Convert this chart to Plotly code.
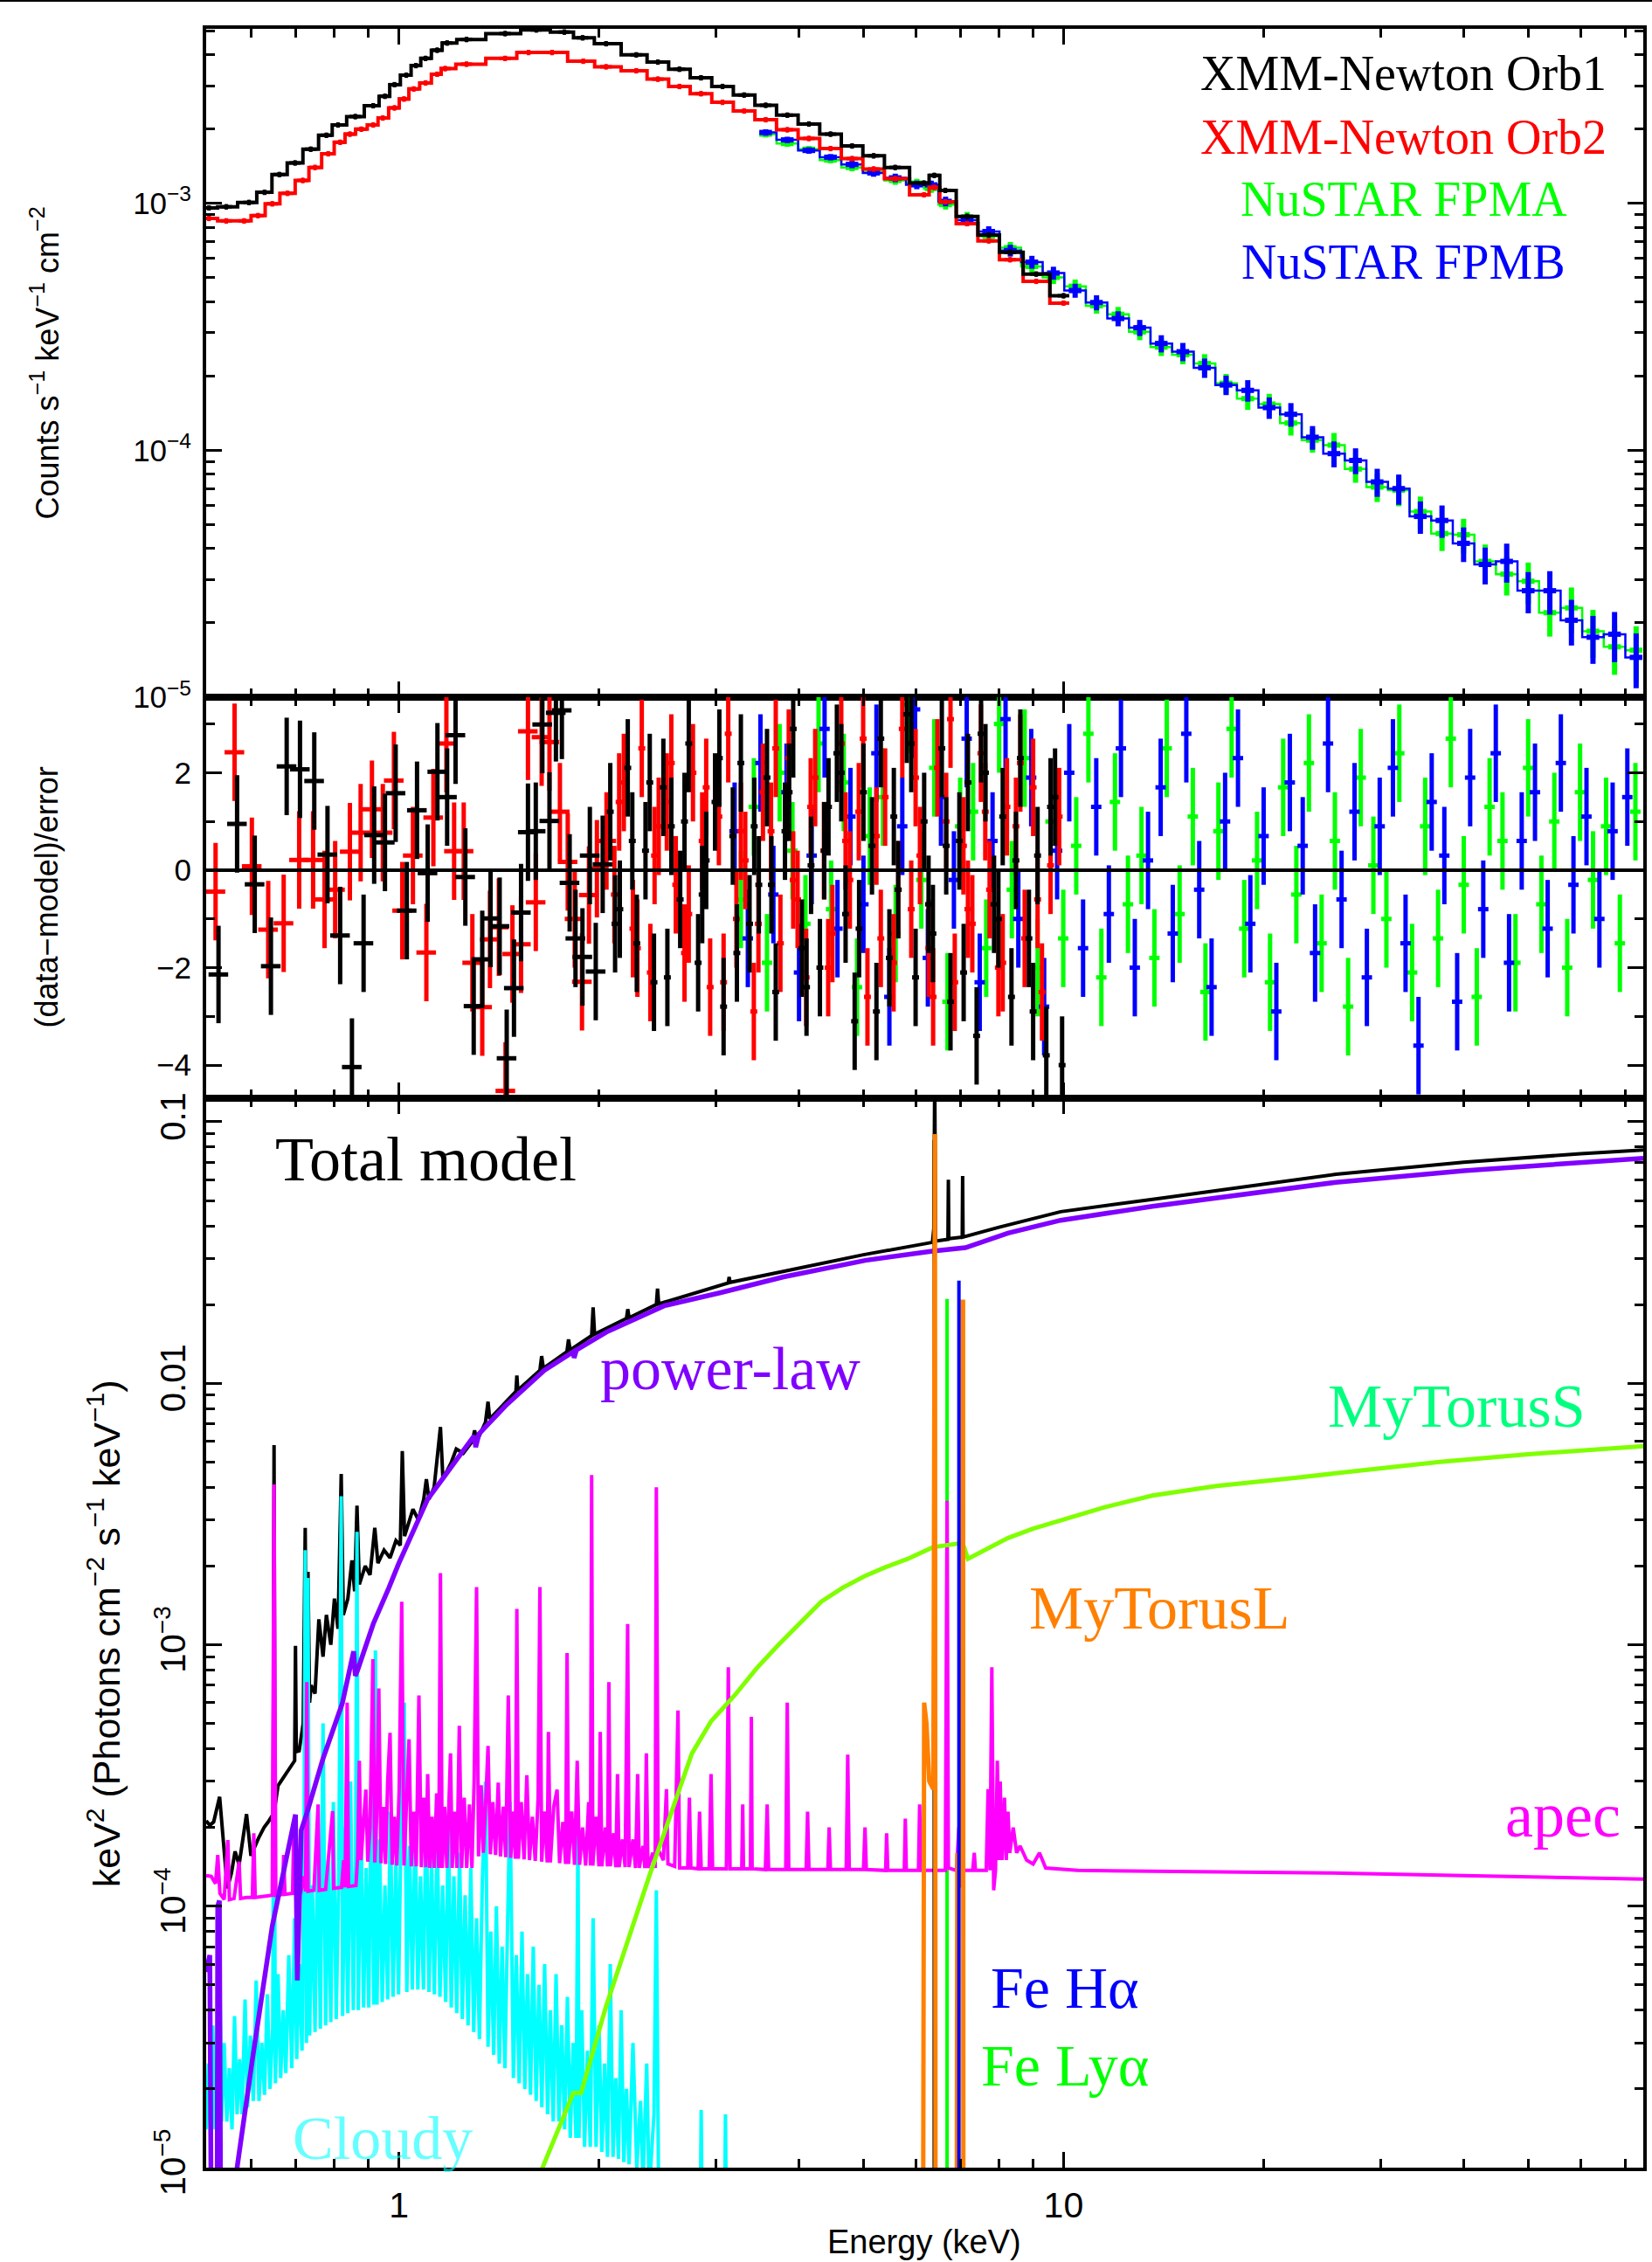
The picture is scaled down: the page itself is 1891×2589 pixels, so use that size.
import numpy as np
import plotly.graph_objects as go

# ======================= TOP PANEL: unfolded counts =======================
xmm1_energy = [0.518, 0.55, 0.595, 0.628, 0.661, 0.698, 0.737, 0.778, 0.81, 0.86, 0.915, 0.953, 0.985,
               1.026, 1.061, 1.097, 1.142, 1.182, 1.264, 1.445, 1.61, 1.774, 1.89, 2.05, 2.276, 2.453,
               2.643, 2.848, 3.069, 3.307, 3.564, 3.841, 4.139, 4.461, 4.807, 5.180, 5.581, 6.166, 6.39,
               6.64, 7.16, 7.717, 8.31, 9.096, 10.0]
xmm1_counts = [9.6e-4, 9.7e-4, 1.01e-3, 1.11e-3, 1.31e-3, 1.46e-3, 1.66e-3, 1.89e-3, 2.08e-3, 2.25e-3,
               2.49e-3, 2.72e-3, 3.03e-3, 3.31e-3, 3.62e-3, 3.87e-3, 4.18e-3, 4.47e-3, 4.62e-3, 4.88e-3,
               5.05e-3, 4.95e-3, 4.69e-3, 4.44e-3, 4.0e-3, 3.74e-3, 3.50e-3, 3.23e-3, 2.98e-3, 2.75e-3,
               2.50e-3, 2.28e-3, 2.10e-3, 1.91e-3, 1.71e-3, 1.56e-3, 1.40e-3, 1.21e-3, 1.30e-3, 1.13e-3,
               8.87e-4, 7.45e-4, 6.34e-4, 5.18e-4, 4.23e-4]

xmm2_energy = [0.518, 0.55, 0.585, 0.614, 0.645, 0.68, 0.717, 0.748, 0.783, 0.816, 0.844, 0.878, 0.915,
               0.946, 0.985, 1.018, 1.053, 1.097, 1.142, 1.174, 1.264, 1.445, 1.567, 1.70, 1.894, 2.05,
               2.276, 2.453, 2.643, 2.848, 3.069, 3.307, 3.564, 3.841, 4.139, 4.461, 4.807, 5.180, 5.581,
               6.166, 6.39, 6.64, 7.16, 7.717, 8.31, 9.096, 10.0]
xmm2_counts = [8.7e-4, 8.5e-4, 8.5e-4, 8.93e-4, 9.97e-4, 1.1e-3, 1.24e-3, 1.4e-3, 1.59e-3, 1.77e-3,
               1.91e-3, 2.0e-3, 2.08e-3, 2.22e-3, 2.44e-3, 2.65e-3, 2.91e-3, 3.08e-3, 3.34e-3, 3.52e-3,
               3.67e-3, 3.87e-3, 4.09e-3, 4.09e-3, 3.77e-3, 3.58e-3, 3.45e-3, 3.19e-3, 2.98e-3, 2.785e-3,
               2.57e-3, 2.37e-3, 2.185e-3, 1.99e-3, 1.835e-3, 1.67e-3, 1.52e-3, 1.38e-3, 1.26e-3,
               1.085e-3, 1.161e-3, 1.015e-3, 8.29e-4, 7.06e-4, 5.92e-4, 4.84e-4, 3.95e-4]

nustar_energy = [3.564, 3.841, 4.139, 4.461, 4.807, 5.180, 5.582, 6.015, 6.322, 6.645, 7.161, 7.717,
                 8.316, 8.962, 9.656, 10.41, 11.21, 12.08, 13.02, 14.03, 15.12, 16.30, 17.56, 18.93,
                 20.39, 21.98, 23.69, 25.52, 27.50, 29.64, 31.94, 34.42, 37.10, 39.98, 43.08, 46.42,
                 50.02, 53.90, 58.09, 62.59, 67.45, 72.68]
fpmb_counts = [1.94e-3, 1.81e-3, 1.64e-3, 1.54e-3, 1.44e-3, 1.33e-3, 1.27e-3, 1.19e-3, 1.19e-3, 1.02e-3,
               8.56e-4, 7.70e-4, 6.45e-4, 5.79e-4, 5.23e-4, 4.44e-4, 3.97e-4, 3.42e-4, 3.14e-4, 2.71e-4,
               2.51e-4, 2.16e-4, 1.84e-4, 1.75e-4, 1.49e-4, 1.40e-4, 1.13e-4, 0.97e-4, 9.10e-5, 7.45e-5,
               7.00e-5, 5.40e-5, 5.20e-5, 4.20e-5, 3.45e-5, 3.55e-5, 2.70e-5, 2.70e-5, 2.05e-5, 1.75e-5,
               1.80e-5, 1.45e-5]
fpma_counts = [1.91e-3, 1.75e-3, 1.66e-3, 1.50e-3, 1.40e-3, 1.34e-3, 1.24e-3, 1.21e-3, 1.15e-3, 0.99e-3,
               8.80e-4, 7.38e-4, 6.62e-4, 5.56e-4, 5.02e-4, 4.62e-4, 3.85e-4, 3.56e-4, 3.02e-4, 2.62e-4,
               2.44e-4, 2.25e-4, 1.87e-4, 1.62e-4, 1.54e-4, 1.29e-4, 1.10e-4, 1.05e-4, 8.40e-5, 7.10e-5,
               6.90e-5, 5.65e-5, 4.60e-5, 4.55e-5, 3.55e-5, 3.15e-5, 2.95e-5, 2.20e-5, 2.30e-5, 1.85e-5,
               1.60e-5, 1.55e-5]
nustar_relerr = [0.03, 0.03, 0.03, 0.03, 0.035, 0.035, 0.04, 0.04, 0.04, 0.045, 0.05, 0.05, 0.055, 0.06,
                 0.06, 0.065, 0.07, 0.07, 0.075, 0.08, 0.085, 0.09, 0.09, 0.10, 0.10, 0.11, 0.11, 0.12,
                 0.12, 0.13, 0.14, 0.15, 0.15, 0.16, 0.17, 0.18, 0.19, 0.20, 0.21, 0.22, 0.23, 0.25]

# ======================= MIDDLE PANEL: residuals =======================
res1_low_energy = [0.5354, 0.571, 0.607, 0.642, 0.678, 0.710, 0.746, 0.781, 0.816, 0.850, 0.885, 0.918,
                   0.953, 0.989, 1.028, 1.065, 1.105, 1.143, 1.182, 1.217, 1.259, 1.296, 1.335, 1.374,
                   1.418, 1.453, 1.490, 1.527, 1.564, 1.607, 1.644, 1.685, 1.723, 1.759, 1.807, 1.844,
                   1.889, 1.938, 1.978, 2.026]
res1_low = [-2.14, 0.95, -0.29, -1.97, 2.13, 2.07, 1.83, 0.32, -1.34, -4.04, -1.5, 0.72, 0.57, 1.58,
            -0.83, 1.23, -0.06, 2.02, 1.5, 2.77, -0.14, -2.79, -1.83, -0.99, -1.15, -3.86, -2.42, -0.87,
            0.78, 0.8, 2.99, 1.01, 3.23, 3.28, -0.26, -1.4, -1.78, 0.3, -2.08, 0.12]
res1_high_energy = [2.08, 2.15, 2.21, 2.28, 2.35, 2.42, 2.50, 2.57, 2.65, 2.73, 2.82, 2.90, 2.99, 3.08,
                    3.18, 3.27, 3.37, 3.48, 3.58, 3.69, 3.81, 3.92, 4.04, 4.17, 4.30, 4.43, 4.56, 4.70,
                    4.85, 5.00, 5.15, 5.31, 5.47, 5.64, 5.81, 5.99, 6.17, 6.36, 6.56, 6.76, 6.97, 7.18,
                    7.40, 7.63, 7.86, 8.10, 8.35, 8.61, 8.87, 9.14, 9.42, 9.71, 9.95]
res1_high = [1.2, -0.8, 2.1, -1.5, 0.4, -2.3, 1.7, 0.9, -0.6, 2.6, -1.9, 0.2, 1.4, -2.8, 0.7, 2.2, -1.1,
             -0.3, 1.9, -2.5, 0.8, 2.9, -1.6, 0.1, -2.0, 1.3, 2.4, -0.9, -3.1, 1.6, 0.5, 2.7, -1.8, -0.4,
             3.2, -2.2, 1.0, -1.3, 2.5, -2.7, 0.6, 1.8, -3.4, 2.0, -0.7, 1.1, -2.6, 2.3, -1.4, 0.3, -3.8,
             1.5, -4.0]
res1_mid_energy = [2.115, 2.245, 2.385, 2.535, 2.69, 2.86, 3.035, 3.225, 3.425, 3.635, 3.865, 4.105,
                   4.365, 4.63, 4.925, 5.23, 5.555, 5.9, 6.265, 6.66, 7.075, 7.515, 7.98, 8.48, 9.0,
                   9.56]
res1_mid = [-1.1, 0.6, 1.8, -2.2, 1.0, -0.5, 2.3, -1.7, 0.9, -0.3, 1.6, -2.4, 0.4, 2.0, -1.2, -2.9, 1.1,
            2.6, -0.7, 0.5, -2.1, 2.8, -1.0, 0.2, -2.9, 1.3]

res2_low_energy = [0.530, 0.566, 0.601, 0.636, 0.671, 0.708, 0.743, 0.773, 0.802, 0.844, 0.876, 0.911,
                   0.946, 0.983, 1.012, 1.050, 1.100, 1.127, 1.179, 1.211, 1.252, 1.290, 1.335, 1.371,
                   1.414, 1.447, 1.482, 1.527, 1.564, 1.607, 1.640, 1.685, 1.747, 1.795, 1.839, 1.886,
                   1.932, 1.986, 2.053]
res2_low = [-0.44, 2.42, 0.08, -1.22, -1.09, 0.21, 0.21, -0.6, -0.4, 0.38, 0.77, 1.25, 0.77, 1.84, -0.83,
            0.3, -1.69, 1.08, 2.6, 0.39, 0.39, -1.9, -2.81, -1.42, -1.17, -4.53, -1.72, -1.52, 2.85,
            -0.66, 2.73, 2.63, 1.2, 0.17, -1.0, -2.29, -0.51, 0.03, 0.6]
res2_high_energy = [2.11, 2.18, 2.25, 2.32, 2.39, 2.46, 2.53, 2.61, 2.69, 2.77, 2.86, 2.94, 3.03, 3.13,
                    3.22, 3.32, 3.42, 3.53, 3.63, 3.75, 3.86, 3.98, 4.10, 4.23, 4.36, 4.49, 4.63, 4.77,
                    4.92, 5.07, 5.23, 5.39, 5.55, 5.72, 5.90, 6.08, 6.27, 6.46, 6.66, 6.86, 7.07, 7.29,
                    7.51, 7.74, 7.98, 8.22, 8.48, 8.74, 9.00, 9.28, 9.56, 9.85]
res2_high = [-0.5, 1.8, -1.2, 2.5, -2.1, 0.9, 1.4, -0.3, -1.7, 2.0, 0.6, -2.4, 1.1, 2.8, -1.0, 0.2, -2.9,
             1.6, 0.8, -1.5, 2.3, -0.6, -2.2, 1.9, 0.4, -1.3, 2.6, -0.2, 1.2, -2.6, 0.7, 1.5, -1.9, 2.9,
             -0.8, 0.3, -1.6, 2.1, 1.0, -2.3, 0.5, -1.1, 2.4, -0.4, -2.0, 1.3, 0.9, -1.4, 1.7, -2.5, 0.1,
             1.1]
res2_mid_energy = [2.145, 2.285, 2.425, 2.57, 2.73, 2.9, 3.08, 3.27, 3.475, 3.69, 3.92, 4.165, 4.425,
                   4.7, 4.995, 5.31, 5.64, 5.99, 6.365, 6.76, 7.18, 7.625, 8.1, 8.61, 9.14]
res2_mid = [1.4, -1.6, 0.3, 2.2, -0.9, 1.7, -2.3, 0.8, -1.1, 2.5, -0.2, 1.3, -2.0, 0.6, 2.7, -1.4, -0.4,
            1.9, -2.6, 3.1, -0.8, 1.2, -1.9, 2.2, -0.6]

resB_energy = [3.20, 3.35, 3.50, 3.66, 3.83, 4.00, 4.18, 4.37, 4.57, 4.78, 5.00, 5.23, 5.47, 5.72, 5.98,
               6.25, 6.54, 6.84, 7.15, 7.48, 7.82, 8.18, 8.55, 8.94, 9.35, 9.78, 10.2, 10.7, 11.2, 11.7,
               12.2, 12.8, 13.4, 14.0, 14.6, 15.3, 16.0, 16.7, 17.5, 18.3, 19.1, 20.0, 20.9, 21.9, 22.9,
               23.9, 25.0, 26.2, 27.4, 28.6, 29.9, 31.3, 32.7, 34.2, 35.8, 37.4, 39.1, 40.9, 42.8, 44.7,
               46.8, 48.9, 51.2, 53.5, 56.0, 58.5, 61.2, 64.0, 67.0, 70.5]
resB = [0.8, -1.4, 2.2, -0.5, 1.6, -2.1, 0.3, 2.9, -1.2, 1.1, -0.7, 2.4, -2.6, 0.9, 3.3, -1.8, 1.5, -0.2,
        2.7, -2.3, 0.6, 3.1, -1.0, 1.9, -2.8, 0.4, 2.0, -1.6, 1.3, -0.9, 2.5, -2.0, 0.2, 1.7, -1.3, 2.8,
        -0.4, -2.4, 1.0, 2.3, -1.1, 0.7, -2.9, 1.8, 0.5, -1.7, 2.6, -0.6, 1.2, -2.2, 0.9, 2.1, -1.5, -3.6,
        1.4, 0.3, -2.7, 1.9, -0.8, 2.4, -1.9, 0.6, 1.6, -1.2, 2.2, -0.3, 1.1, -1.0, 0.8, 1.5]
resA_energy = [3.27, 3.42, 3.58, 3.74, 3.91, 4.09, 4.28, 4.47, 4.67, 4.89, 5.11, 5.35, 5.59, 5.85, 6.11,
               6.39, 6.69, 6.99, 7.31, 7.65, 8.00, 8.36, 8.74, 9.14, 9.56, 9.99, 10.45, 10.9, 11.4, 11.95,
               12.5, 13.1, 13.7, 14.3, 14.95, 15.65, 16.35, 17.1, 17.9, 18.7, 19.55, 20.45, 21.4, 22.4,
               23.4, 24.45, 25.6, 26.8, 28.0, 29.25, 30.6, 32.0, 33.45, 35.0, 36.6, 38.25, 40.0, 41.85,
               43.75, 45.75, 47.85, 50.0, 52.35, 54.75, 57.25, 59.85, 62.6, 65.5, 68.7, 72.5]
resA = [-0.6, 1.3, -1.9, 2.0, 0.4, -1.1, 2.6, -0.8, 1.8, -2.4, 0.7, 1.5, -1.3, 3.4, -0.2, 2.1, -2.7, 0.9,
        1.2, -1.6, 3.0, -0.4, 2.3, -2.0, 1.0, -1.4, 0.5, 2.8, -2.2, 1.4, -0.7, 0.3, -1.8, 2.5, -0.9, 1.1,
        -2.5, 0.8, 2.9, -1.2, 0.2, -2.3, 1.7, -0.5, 2.2, -1.5, 0.6, -2.8, 1.9, 0.1, -1.0, 2.4, -2.1, 0.9,
        -1.4, 2.7, -0.3, -2.6, 1.3, 0.6, -1.9, 2.1, -0.7, 1.0, -2.0, 1.6, -0.2, 0.9, -1.5, 1.2]

# ======================= BOTTOM PANEL: model components =======================
powerlaw_energy = [0.513, 0.5195, 0.524, 0.532, 0.534, 0.537, 0.541, 0.571, 0.603, 0.645, 0.699, 0.7035,
                   0.713, 0.728, 0.768, 0.822, 0.855, 0.860, 0.867, 0.915, 0.966, 1.0, 1.105, 1.298, 1.305,
                   1.32, 1.447, 1.655, 1.83, 1.835, 1.85, 2.053, 2.51, 3.05, 3.79, 5.03, 6.35, 7.10, 7.12,
                   8.25, 9.9, 13.6, 25.7, 40.0, 60.0, 74.5]
powerlaw_flux = [5.6e-5, 6.5e-5, 1e-6, 1e-6, 1.0e-4, 1.05e-4, 1e-6, 1.0e-5, 2.66e-5, 8.4e-5, 2.24e-4,
                 5.2e-5, 1.95e-4, 2.29e-4, 3.63e-4, 5.96e-4, 9.44e-4, 7.6e-4, 8.0e-4, 1.2e-3, 1.65e-3,
                 2.05e-3, 3.6e-3, 6.3e-3, 5.7e-3, 6.4e-3, 8.2e-3, 1.12e-2, 1.32e-2, 1.25e-2, 1.34e-2,
                 1.57e-2, 1.98e-2, 2.22e-2, 2.55e-2, 2.95e-2, 3.2e-2, 3.32e-2, 3.3e-2, 3.75e-2, 4.2e-2,
                 4.75e-2, 5.87e-2, 6.5e-2, 7.0e-2, 7.25e-2]

TOTAL_MODEL = [
    (0.513, 2.12e-4), (0.5195, 2.04e-4), (0.5265, 2.1e-4), (0.5375, 2.62e-4), (0.552, 1.17e-4),
    (0.560, 1.34e-4), (0.567, 1.62e-4), (0.575, 1.44e-4), (0.590, 2.25e-4), (0.599, 1.56e-4),
    (0.615, 1.82e-4), (0.627, 2.0e-4), (0.636, 2.1e-4), (0.647, 2.25e-4), (0.649, 5.8e-3),
    (0.651, 2.4e-4), (0.658, 2.89e-4), (0.671, 3.12e-4), (0.685, 3.37e-4), (0.697, 3.6e-4),
    (0.699, 9.9e-4), (0.701, 3.9e-4), (0.708, 3.93e-4), (0.718, 5.0e-4), (0.723, 2.8e-3),
    (0.726, 5.5e-4), (0.730, 1.9e-3), (0.734, 6.0e-4), (0.738, 7.0e-4), (0.748, 6.5e-4),
    (0.758, 1.25e-3), (0.769, 9.0e-4), (0.778, 1.3e-3), (0.790, 1.0e-3), (0.800, 1.5e-3),
    (0.810, 1.15e-3), (0.819, 4.5e-3), (0.825, 1.3e-3), (0.838, 1.5e-3), (0.850, 2.1e-3),
    (0.858, 1.6e-3), (0.865, 3.4e-3), (0.872, 1.7e-3), (0.89, 2.0e-3), (0.905, 1.85e-3),
    (0.92, 2.8e-3), (0.93, 2.05e-3), (0.95, 2.3e-3), (0.97, 2.15e-3), (0.99, 2.5e-3), (1.005, 2.4e-3),
    (1.012, 5.5e-3), (1.02, 2.6e-3), (1.05, 3.3e-3), (1.07, 3.0e-3), (1.09, 3.6e-3), (1.10, 4.3e-3),
    (1.11, 3.6e-3), (1.13, 4.0e-3), (1.155, 6.8e-3), (1.165, 4.3e-3), (1.20, 5.0e-3), (1.22, 5.6e-3),
    (1.25, 5.4e-3), (1.29, 6.0e-3), (1.30, 6.6e-3), (1.31, 6.0e-3), (1.35, 7.1e-3), (1.362, 8.5e-3),
    (1.37, 7.3e-3), (1.45, 8.5e-3), (1.50, 9.3e-3), (1.505, 1.07e-2), (1.51, 9.4e-3), (1.63, 1.12e-2),
    (1.64, 1.27e-2), (1.65, 1.14e-2), (1.79, 1.32e-2), (1.80, 1.47e-2), (1.81, 1.34e-2),
    (1.95, 1.52e-2), (1.96, 1.95e-2), (1.97, 1.54e-2), (2.20, 1.77e-2), (2.21, 1.92e-2),
    (2.22, 1.78e-2), (2.44, 2.0e-2), (2.45, 2.3e-2), (2.46, 2.01e-2), (3.0, 2.35e-2), (3.13, 2.42e-2),
    (3.14, 2.55e-2), (3.15, 2.43e-2), (3.8, 2.68e-2), (5.0, 3.1e-2), (6.2, 3.42e-2), (6.35, 3.46e-2),
    (6.38, 3.9e-2), (6.40, 0.15), (6.42, 3.5e-2), (6.70, 3.55e-2), (6.71, 6.0e-2), (6.72, 3.57e-2),
    (7.04, 3.62e-2), (7.05, 6.2e-2), (7.06, 3.62e-2), (8.0, 3.95e-2), (9.9, 4.53e-2), (14.0, 5.1e-2),
    (25.7, 6.3e-2), (40.0, 7.0e-2), (60.0, 7.55e-2), (74.5, 7.8e-2)]

APEC = [
    (0.513, 1.31e-4), (0.522, 1.30e-4), (0.530, 1.22e-4), (0.534, 1.57e-4), (0.538, 1.12e-4),
    (0.546, 1.06e-4), (0.553, 1.79e-4), (0.556, 1.06e-4), (0.565, 1.07e-4), (0.575, 1.48e-4),
    (0.578, 1.07e-4), (0.590, 1.08e-4), (0.602, 1.08e-4), (0.605, 1.90e-4), (0.608, 1.08e-4),
    (0.625, 1.09e-4), (0.645, 1.10e-4), (0.649, 4.1e-3), (0.653, 1.10e-4), (0.668, 1.11e-4),
    (0.671, 1.57e-4), (0.674, 1.11e-4), (0.692, 1.12e-4), (0.695, 2.03e-4), (0.698, 1.12e-4),
    (0.712, 1.13e-4), (0.720, 1.30e-4), (0.724, 1.14e-4), (0.727, 7.2e-4), (0.730, 1.14e-4),
    (0.745, 1.15e-4), (0.756, 2.45e-4), (0.759, 1.15e-4), (0.776, 1.16e-4), (0.795, 2.31e-4),
    (0.798, 1.17e-4), (0.820, 1.18e-4), (0.826, 1.50e-4), (0.830, 1.18e-4), (0.836, 6.0e-4),
    (0.840, 1.19e-4), (0.862, 1.20e-4), (0.867, 1.55e-4), (0.872, 3.6e-4), (0.877, 1.50e-4),
    (0.885, 2.1e-4), (0.892, 2.79e-4), (0.898, 1.48e-4), (0.905, 2.0e-4), (0.914, 8.8e-4),
    (0.920, 1.47e-4), (0.926, 2.2e-4), (0.933, 6.8e-4), (0.940, 1.46e-4), (0.948, 2.4e-4),
    (0.955, 1.45e-4), (0.962, 3.0e-4), (0.970, 4.6e-4), (0.977, 1.44e-4), (0.985, 2.2e-4),
    (0.993, 1.43e-4), (1.001, 2.8e-4), (1.010, 1.46e-3), (1.018, 1.43e-4), (1.027, 2.5e-4),
    (1.036, 4.35e-4), (1.044, 1.42e-4), (1.053, 2.3e-4), (1.062, 1.42e-4), (1.072, 6.4e-4),
    (1.081, 1.41e-4), (1.090, 2.6e-4), (1.098, 1.41e-4), (1.105, 3.2e-4), (1.113, 1.40e-4),
    (1.122, 2.2e-4), (1.130, 1.40e-4), (1.140, 2.7e-4), (1.148, 1.40e-4), (1.155, 1.88e-3),
    (1.162, 1.40e-4), (1.172, 2.4e-4), (1.181, 1.40e-4), (1.190, 3.0e-4), (1.196, 3.84e-4),
    (1.203, 1.40e-4), (1.213, 2.3e-4), (1.223, 1.40e-4), (1.233, 4.9e-4), (1.243, 1.40e-4),
    (1.254, 2.6e-4), (1.265, 1.40e-4), (1.277, 2.45e-4), (1.288, 1.40e-4), (1.298, 3.0e-4),
    (1.309, 1.66e-3), (1.318, 1.55e-4), (1.330, 2.9e-4), (1.340, 1.60e-4), (1.352, 2.6e-4),
    (1.362, 4.1e-4), (1.373, 1.58e-4), (1.385, 2.5e-4), (1.398, 1.57e-4), (1.411, 2.97e-4),
    (1.422, 1.55e-4), (1.436, 2.4e-4), (1.448, 1.54e-4), (1.461, 6.4e-4), (1.473, 1.53e-4),
    (1.488, 2.3e-4), (1.497, 1.52e-4), (1.505, 1.37e-3), (1.513, 1.52e-4), (1.528, 2.5e-4),
    (1.543, 1.51e-4), (1.558, 3.17e-4), (1.572, 1.50e-4), (1.588, 2.2e-4), (1.604, 1.49e-4),
    (1.620, 2.6e-4), (1.630, 1.66e-3), (1.640, 1.48e-4), (1.656, 2.3e-4), (1.672, 1.47e-4),
    (1.679, 4.64e-4), (1.690, 1.47e-4), (1.710, 2.4e-4), (1.730, 2.79e-4), (1.745, 1.46e-4),
    (1.765, 2.1e-4), (1.782, 1.45e-4), (1.791, 9.3e-4), (1.800, 1.45e-4), (1.820, 2.3e-4),
    (1.838, 1.44e-4), (1.855, 3.6e-4), (1.870, 1.44e-4), (1.890, 2.0e-4), (1.910, 1.43e-4),
    (1.930, 2.5e-4), (1.942, 1.43e-4), (1.950, 4.46e-3), (1.958, 1.43e-4), (1.980, 2.2e-4),
    (2.000, 1.42e-4), (2.009, 4.64e-4), (2.020, 1.42e-4), (2.045, 2.0e-4), (2.060, 1.42e-4),
    (2.070, 7.2e-4), (2.080, 1.42e-4), (2.105, 1.9e-4), (2.120, 1.41e-4), (2.133, 3.2e-4),
    (2.145, 1.41e-4), (2.170, 1.8e-4), (2.190, 1.41e-4), (2.209, 1.2e-3), (2.220, 1.41e-4),
    (2.250, 1.8e-4), (2.270, 1.40e-4), (2.287, 3.2e-4), (2.300, 1.40e-4), (2.330, 1.7e-4),
    (2.345, 1.40e-4), (2.357, 3.84e-4), (2.370, 1.40e-4), (2.410, 1.6e-4), (2.430, 1.40e-4),
    (2.440, 4.0e-3), (2.455, 1.65e-4), (2.500, 1.50e-4), (2.527, 2.8e-4), (2.540, 1.45e-4),
    (2.600, 1.42e-4), (2.630, 5.6e-4), (2.645, 1.40e-4), (2.720, 1.40e-4), (2.736, 2.6e-4),
    (2.750, 1.40e-4), (2.820, 1.39e-4), (2.834, 2.3e-4), (2.850, 1.39e-4), (2.930, 1.39e-4),
    (2.949, 3.2e-4), (2.965, 1.39e-4), (3.110, 1.39e-4), (3.131, 8.2e-4), (3.150, 1.39e-4),
    (3.280, 1.39e-4), (3.291, 2.45e-4), (3.300, 1.39e-4), (3.380, 1.39e-4), (3.391, 5.3e-4),
    (3.400, 1.39e-4), (3.560, 1.38e-4), (3.582, 2.45e-4), (3.600, 1.38e-4), (3.820, 1.38e-4),
    (3.840, 6.0e-4), (3.860, 1.38e-4), (4.100, 1.38e-4), (4.120, 2.3e-4), (4.140, 1.38e-4),
    (4.420, 1.38e-4), (4.440, 2.0e-4), (4.460, 1.38e-4), (4.710, 1.38e-4), (4.735, 3.8e-4),
    (4.760, 1.38e-4), (5.000, 1.38e-4), (5.027, 2.0e-4), (5.050, 1.38e-4), (5.400, 1.37e-4),
    (5.418, 1.9e-4), (5.440, 1.37e-4), (5.760, 1.37e-4), (5.780, 2.16e-4), (5.800, 1.37e-4),
    (6.050, 1.37e-4), (6.074, 2.45e-4), (6.100, 1.37e-4), (6.640, 1.37e-4), (6.660, 4.5e-4),
    (6.680, 3.55e-3), (6.710, 1.40e-4), (6.900, 1.37e-4), (6.960, 2.0e-4), (7.000, 1.37e-4),
    (7.300, 1.37e-4), (7.340, 1.6e-4), (7.370, 1.37e-4), (7.650, 1.37e-4), (7.700, 2.8e-4),
    (7.750, 1.37e-4), (7.800, 8.2e-4), (7.850, 1.15e-4), (7.900, 1.37e-4), (7.950, 3.6e-4),
    (8.000, 1.50e-4), (8.030, 3.0e-4), (8.080, 1.50e-4), (8.150, 2.6e-4), (8.200, 1.50e-4),
    (8.250, 2.3e-4), (8.300, 1.60e-4), (8.400, 2.0e-4), (8.500, 1.60e-4), (8.600, 1.7e-4),
    (8.800, 1.50e-4), (9.000, 1.45e-4), (9.200, 1.6e-4), (9.400, 1.40e-4), (10.5, 1.37e-4),
    (15.0, 1.36e-4), (25.0, 1.34e-4), (40.0, 1.31e-4), (74.5, 1.27e-4)]

CLOUDY = [
    (0.513, 1.4e-5), (0.517, 2.5e-5), (0.521, 1.3e-5), (0.525, 3.5e-5), (0.529, 1.4e-5), (0.533, 2.2e-5),
    (0.537, 7.9e-5), (0.541, 1.5e-5), (0.546, 3.0e-5), (0.551, 1.5e-5), (0.556, 2.4e-5), (0.561, 1.4e-5),
    (0.566, 3.8e-5), (0.571, 1.6e-5), (0.576, 2.6e-5), (0.581, 1.6e-5), (0.587, 4.4e-5), (0.592, 1.7e-5),
    (0.598, 3.2e-5), (0.604, 1.8e-5), (0.610, 5.2e-5), (0.616, 1.8e-5), (0.622, 3.0e-5), (0.628, 1.9e-5),
    (0.634, 4.6e-5), (0.640, 2.0e-5), (0.646, 3.4e-5), (0.649, 7.7e-4), (0.652, 2.1e-5), (0.658, 5.5e-5),
    (0.664, 2.2e-5), (0.670, 4.0e-5), (0.676, 2.3e-5), (0.683, 6.5e-5), (0.690, 2.4e-5), (0.697, 9.0e-5),
    (0.702, 2.6e-5), (0.708, 6.0e-5), (0.715, 2.8e-5), (0.720, 1.6e-4), (0.723, 2.3e-3), (0.726, 3.0e-5),
    (0.730, 1.8e-3), (0.734, 3.2e-5), (0.741, 1.2e-4), (0.748, 3.3e-5), (0.755, 2.0e-4), (0.762, 3.4e-5),
    (0.769, 5.0e-4), (0.776, 3.5e-5), (0.783, 1.5e-4), (0.790, 3.6e-5), (0.797, 2.5e-4), (0.805, 3.7e-5),
    (0.812, 1.3e-4), (0.819, 3.7e-3), (0.823, 3.8e-5), (0.830, 2.0e-4), (0.838, 3.9e-5), (0.846, 3.0e-4),
    (0.854, 4.0e-5), (0.861, 1.6e-4), (0.865, 2.7e-3), (0.869, 4.0e-5), (0.877, 2.2e-4), (0.885, 4.1e-5),
    (0.893, 1.4e-4), (0.901, 4.1e-5), (0.909, 3.0e-4), (0.917, 4.2e-5), (0.922, 9.5e-4), (0.927, 4.2e-5),
    (0.935, 1.8e-4), (0.944, 4.3e-5), (0.953, 1.2e-4), (0.962, 4.4e-5), (0.971, 2.3e-4), (0.980, 4.5e-5),
    (0.990, 1.5e-4), (0.999, 4.6e-5), (1.009, 2.6e-4), (1.019, 6.0e-4), (1.028, 4.7e-5), (1.038, 1.7e-4),
    (1.048, 4.8e-5), (1.058, 2.0e-4), (1.068, 4.8e-5), (1.078, 1.3e-4), (1.089, 4.8e-5), (1.099, 2.4e-4),
    (1.110, 4.7e-5), (1.120, 1.5e-4), (1.131, 4.6e-5), (1.142, 1.9e-4), (1.153, 4.5e-5), (1.164, 1.2e-4),
    (1.176, 4.3e-5), (1.187, 2.1e-4), (1.199, 4.1e-5), (1.210, 1.3e-4), (1.222, 3.9e-5), (1.234, 1.6e-4),
    (1.246, 3.7e-5), (1.258, 1.1e-4), (1.271, 3.5e-5), (1.283, 1.4e-4), (1.296, 3.3e-5), (1.309, 9.0e-5),
    (1.322, 3.1e-5), (1.335, 1.2e-4), (1.350, 3.0e-4), (1.362, 2.9e-5), (1.375, 8.0e-5), (1.389, 2.7e-5),
    (1.402, 1.0e-4), (1.416, 2.5e-5), (1.430, 7.0e-5), (1.444, 2.4e-5), (1.458, 9.0e-5), (1.470, 2.5e-4),
    (1.487, 2.2e-5), (1.502, 6.5e-5), (1.517, 2.1e-5), (1.532, 8.0e-5), (1.547, 2.0e-5), (1.562, 5.5e-5),
    (1.578, 1.9e-5), (1.593, 7.0e-5), (1.609, 1.8e-5), (1.625, 5.0e-5), (1.641, 1.7e-5), (1.657, 6.0e-5),
    (1.674, 1.6e-5), (1.690, 4.0e-5), (1.707, 1.5e-5), (1.724, 5.5e-5), (1.741, 1.5e-5), (1.758, 3.5e-5),
    (1.776, 1.4e-5), (1.793, 4.5e-5), (1.811, 1.3e-5), (1.829, 3.0e-5), (1.847, 1.3e-5), (1.860, 2.0e-4),
    (1.866, 1.3e-5), (1.884, 4.0e-5), (1.903, 1.2e-5), (1.922, 2.8e-5), (1.941, 1.2e-5), (1.960, 9.0e-5),
    (1.980, 1.2e-5), (2.000, 3.5e-5), (2.020, 1.15e-5), (2.040, 2.5e-5), (2.060, 1.1e-5), (2.080, 6.0e-5),
    (2.100, 1.1e-5), (2.120, 2.2e-5), (2.140, 1.08e-5), (2.160, 4.0e-5), (2.180, 1.05e-5), (2.200, 2.0e-5),
    (2.220, 1.03e-5), (2.250, 3.0e-5), (2.280, 1.0e-5), (2.310, 1.8e-5), (2.330, 9e-6), (2.360, 2.5e-5),
    (2.380, 8e-6), (2.420, 1.6e-5), (2.440, 1.15e-4), (2.460, 7e-6), (2.500, 6e-6), (2.840, 6e-6),
    (2.850, 1.66e-5), (2.860, 6e-6), (3.090, 6e-6), (3.100, 1.6e-5), (3.110, 6e-6)]

mytorus_s_energy = [1.60, 1.645, 1.83, 1.88, 2.05, 2.38, 2.76, 2.95, 3.2, 3.45, 3.72, 4.0, 4.32, 4.65,
                    5.02, 5.4, 5.83, 6.36, 6.78, 7.05, 7.18, 7.6, 8.25, 9.0, 9.94, 11.5, 13.6, 17.0,
                    22.3, 28.0, 36.8, 50.0, 74.5]
mytorus_s_flux = [7e-6, 1e-5, 1.93e-5, 1.93e-5, 4.14e-5, 1.30e-4, 3.84e-4, 5.1e-4, 6.4e-4, 8.1e-4,
                  9.96e-4, 1.2e-3, 1.46e-3, 1.65e-3, 1.83e-3, 1.98e-3, 2.13e-3, 2.36e-3, 2.42e-3, 2.45e-3,
                  2.13e-3, 2.3e-3, 2.56e-3, 2.78e-3, 3.0e-3, 3.35e-3, 3.72e-3, 4.05e-3, 4.35e-3, 4.65e-3,
                  5.0e-3, 5.35e-3, 5.74e-3]

mytorus_l_energy = [6.14, 6.17, 6.22, 6.28, 6.37, 6.39, 6.405, 6.42, 6.90, 6.92, 6.99, 7.04, 7.05, 7.06,
                    7.07]
mytorus_l_flux = [1e-6, 6.0e-4, 5.0e-4, 3.0e-4, 2.8e-4, 8.97e-2, 8.97e-2, 1e-6, 1e-6, 1.6e-4, 1.2e-4,
                  1.2e-4, 2.05e-2, 2.05e-2, 1e-6]

fe_kalpha_narrow_energy = [6.38, 6.38]
fe_kalpha_narrow_flux = [1e-6, 8.5e-2]
fe_lya_energy = [6.68, 6.68]
fe_lya_flux = [1e-6, 2.1e-2]
fe_ha_energy = [6.96, 6.96]
fe_ha_flux = [1e-6, 2.47e-2]

# ======================= FIGURE =======================
W, H = 1891, 2589
ML, MR, MT, MB = 236, 6, 33, 108
PW, PH = W - ML - MR, H - MT - MB
X_RANGE = [np.log10(0.513), np.log10(74.5)]

fig = go.Figure()

def err_cross(color, thick=4):
    return dict(color=color, thickness=thick, width=0)

# ---- top panel ----
for en, cts, col in [(nustar_energy, fpma_counts, '#00ff00'), (nustar_energy, fpmb_counts, '#0000ff')]:
    fig.add_trace(go.Scatter(
        x=en, y=cts, mode='lines+markers', line=dict(color=col, width=2.5, shape='hvh'),
        marker=dict(size=6, color=col),
        error_y=dict(type='data', array=[c * r for c, r in zip(cts, nustar_relerr)], **err_cross(col, 6)),
        error_x=dict(type='percent', value=2.2, **err_cross(col, 6)),
        xaxis='x', yaxis='y', showlegend=False))
for en, cts, col in [(xmm2_energy, xmm2_counts, '#ff0000'), (xmm1_energy, xmm1_counts, '#000000')]:
    fig.add_trace(go.Scatter(
        x=en, y=cts, mode='lines+markers', line=dict(color=col, width=4, shape='hvh'),
        marker=dict(size=6, color=col),
        error_y=dict(type='percent', value=2.5, **err_cross(col, 4)),
        error_x=dict(type='percent', value=2.0, **err_cross(col, 4)),
        xaxis='x', yaxis='y', showlegend=False))

# ---- middle panel ----
for en, rr, col, wx in [(resA_energy, resA, '#00ff00', 1.8), (resB_energy, resB, '#0000ff', 1.8),
                        (res2_low_energy, res2_low, '#ff0000', 3.4), (res2_high_energy, res2_high, '#ff0000', 1.2),
                        (res2_mid_energy, res2_mid, '#ff0000', 1.2),
                        (res1_low_energy, res1_low, '#000000', 3.4), (res1_high_energy, res1_high, '#000000', 1.2),
                        (res1_mid_energy, res1_mid, '#000000', 1.2)]:
    fig.add_trace(go.Scatter(
        x=en, y=rr, mode='markers', marker=dict(size=5, color=col),
        error_y=dict(type='constant', value=1.0, **err_cross(col, 5)),
        error_x=dict(type='percent', value=wx, **err_cross(col, 5)),
        xaxis='x2', yaxis='y2', showlegend=False, cliponaxis=True))

# ---- bottom panel ----
def add_line(xs, ys, color, width):
    fig.add_trace(go.Scatter(x=list(xs), y=list(ys), mode='lines', line=dict(color=color, width=width),
                             xaxis='x3', yaxis='y3', showlegend=False))

add_line([p[0] for p in TOTAL_MODEL], [p[1] for p in TOTAL_MODEL], '#000000', 4)
add_line([p[0] for p in CLOUDY], [p[1] for p in CLOUDY], '#00ffff', 4)
add_line(fe_lya_energy, fe_lya_flux, '#00ff00', 4)
add_line([p[0] for p in APEC], [p[1] for p in APEC], '#ff00ff', 4)
add_line(powerlaw_energy, powerlaw_flux, '#8000ff', 5.5)
add_line(mytorus_s_energy, mytorus_s_flux, '#80ff00', 5)
add_line(fe_kalpha_narrow_energy, fe_kalpha_narrow_flux, '#000000', 3)
add_line(mytorus_l_energy, mytorus_l_flux, '#ff8000', 5)
add_line(fe_ha_energy, fe_ha_flux, '#0000ff', 4)

# ---- axes ----
def minor_log(lo_exp, hi_exp, vmax):
    vals = []
    for e in range(lo_exp, hi_exp + 1):
        for m in range(2, 10):
            v = m * 10.0 ** e
            if v <= vmax:
                vals.append(v)
    return vals

SANS = 'Liberation Sans, Arial, sans-serif'
SERIF = 'Liberation Serif, Times New Roman, serif'
base = dict(showline=True, linecolor='black', linewidth=4, mirror='allticks', ticks='inside',
            ticklen=18, tickwidth=3, tickcolor='black', showgrid=False, zeroline=False,
            tickfont=dict(family=SANS, size=35, color='black'))
minor_tick = dict(ticks='inside', ticklen=10, tickwidth=3, tickcolor='black', showgrid=False)
minor_x = dict(minor_tick, tickvals=[0.6, 0.7, 0.8, 0.9, 2, 3, 4, 5, 6, 7, 8, 9, 20, 30, 40, 50, 60, 70])

fig.update_layout(
    xaxis=dict(base, type='log', range=X_RANGE, domain=[0, 1], anchor='y', showticklabels=False,
               tickvals=[1, 10], minor=minor_x),
    xaxis2=dict(base, type='log', range=X_RANGE, domain=[0, 1], anchor='y2', matches='x',
                showticklabels=False, tickvals=[1, 10], minor=minor_x),
    xaxis3=dict(base, type='log', range=X_RANGE, domain=[0, 1], anchor='y3', matches='x',
                tickvals=[1, 10], ticktext=['1', '10'], ticklabelstandoff=4, minor=minor_x,
                tickfont=dict(family=SANS, size=41, color='black')),
    yaxis=dict(base, type='log', range=[-5, np.log10(5.1e-3)], domain=[(1224 + 459) / PH, 1.0],
               anchor='x', tickvals=[1e-5, 1e-4, 1e-3],
               ticktext=['10<sup>−5</sup>', '10<sup>−4</sup>', '10<sup>−3</sup>'], ticklabelstandoff=6,
               minor=dict(minor_tick, tickvals=minor_log(-5, -3, 5.1e-3))),
    yaxis2=dict(base, range=[-4.68, 3.55], domain=[1224 / PH, (1224 + 459) / PH], anchor='x2',
                tickvals=[-4, -2, 0, 2], ticktext=['−4', '−2', '0', '2'], ticklabelstandoff=6,
                minor=dict(minor_tick, tickvals=[-3, -1, 1, 3])),
    yaxis3=dict(base, type='log', range=[-5, -0.91], domain=[0.0, 1224 / PH], anchor='x3',
                tickvals=[1e-5, 1e-4, 1e-3, 1e-2, 1e-1],
                ticktext=['10<sup>−5</sup>', '10<sup>−4</sup>', '10<sup>−3</sup>', '0.01', '0.1'],
                tickangle=-90, ticklabelstandoff=4,
                tickfont=dict(family=SANS, size=40, color='black'),
                minor=dict(minor_tick, tickvals=minor_log(-5, -2, 0.123))),
    width=W, height=H, margin=dict(l=ML, r=MR, t=MT, b=MB, pad=0),
    plot_bgcolor='white', paper_bgcolor='white', showlegend=False,
)

# zero line in residual panel
fig.add_shape(type='line', xref='x2 domain', yref='y2', x0=0, x1=1, y0=0, y1=0,
              line=dict(color='black', width=4))
# thin rule across the top of the page
fig.add_shape(type='line', xref='paper', yref='paper', x0=-0.2, x1=1.1,
              y0=1 + (MT - 1) / PH, y1=1 + (MT - 1) / PH, line=dict(color='black', width=2))

def px(xp, yp):
    return (xp - ML) / PW, (H - MB - yp) / PH

labels = [
    ('XMM-Newton Orb1', 1610, 84, '#000000', 56),
    ('XMM-Newton Orb2', 1610, 157, '#ff0000', 56),
    ('NuSTAR FPMA', 1610, 228, '#00ff00', 56),
    ('NuSTAR FPMB', 1610, 300, '#0000ff', 56),
    ('Total model', 488, 1327, '#000000', 72),
    ('power-law', 837, 1566, '#8000ff', 70),
    ('MyTorusS', 1671, 1610, '#00ff7f', 70),
    ('MyTorusL', 1330, 1840, '#ff8000', 70),
    ('apec', 1793, 2078, '#ff00ff', 72),
    ('Fe Hα', 1221, 2275, '#0000ff', 68),
    ('Fe Lyα', 1221, 2364, '#00ff00', 68),
    ('Cloudy', 438, 2447, 'rgba(0,255,255,0.6)', 70),
]
for txt, xx, yy, col, fs in labels:
    ax_, ay_ = px(xx, yy)
    fig.add_annotation(text=txt, x=ax_, y=ay_, xref='paper', yref='paper', showarrow=False,
                       xanchor='center', yanchor='middle', font=dict(family=SERIF, size=fs, color=col))

titles = [
    ('Counts s<sup>−1</sup> keV<sup>−1</sup> cm<sup>−2</sup>', 51, 415, -90, 36),
    ('(data−model)/error', 53, 1027, -90, 36),
    ('keV<sup>2</sup> (Photons cm<sup>−2</sup> s<sup>−1</sup> keV<sup>−1</sup>)', 119, 1870, -90, 43),
    ('Energy (keV)', 1060, 2566, 0, 38),
]
for txt, xx, yy, ang, fs in titles:
    ax_, ay_ = px(xx, yy)
    fig.add_annotation(text=txt, x=ax_, y=ay_, xref='paper', yref='paper', showarrow=False,
                       xanchor='center', yanchor='middle', textangle=ang,
                       font=dict(family=SANS, size=fs, color='black'))

fig.write_html('out.html')
